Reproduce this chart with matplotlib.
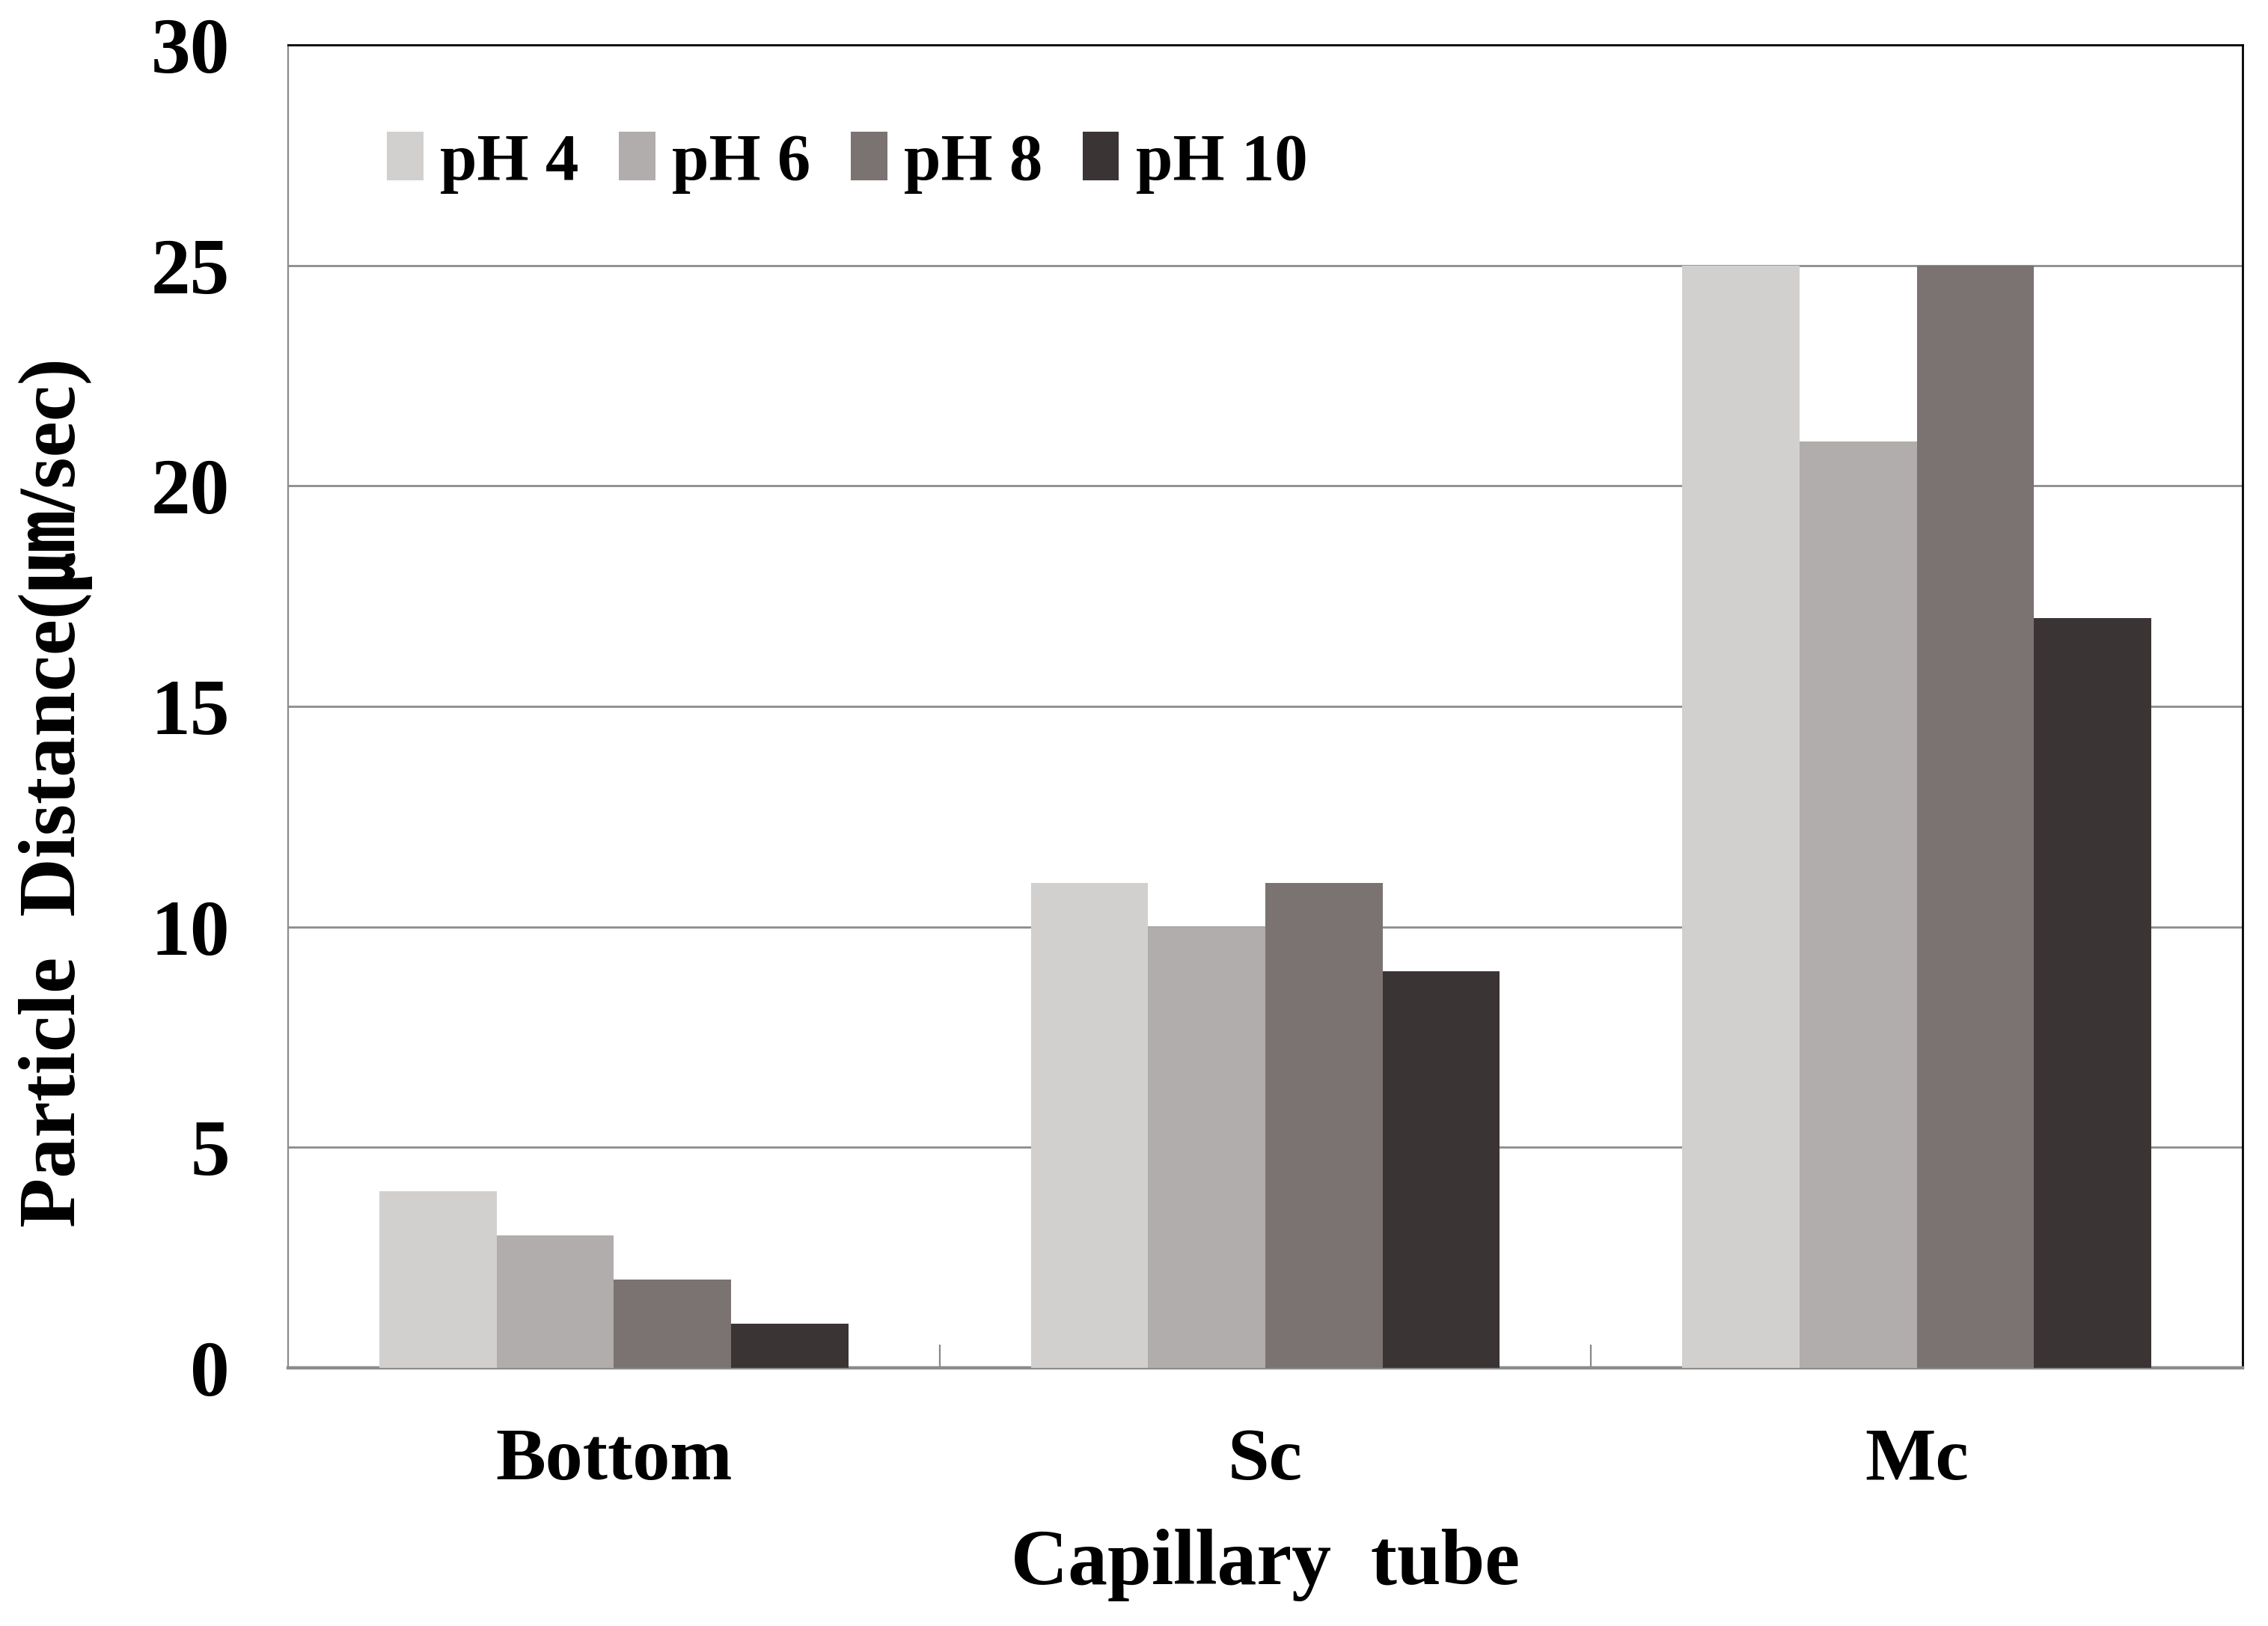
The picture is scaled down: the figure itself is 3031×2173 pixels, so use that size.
import numpy as np
import matplotlib
matplotlib.use("Agg")
import matplotlib.pyplot as plt


# ----------------------------------------------------
# Data
# ----------------------------------------------------

categories = ["Bottom", "Sc", "Mc"]
series_names = ["pH 4", "pH 6", "pH 8", "pH 10"]

ph4 = [4, 11, 25]
ph6 = [3, 10, 21]
ph8 = [2, 11, 25]
ph10 = [1, 9, 17]

y_ticks = [0, 5, 10, 15, 20, 25, 30]

colors = ["#d1d0cf", "#b1adac", "#7a7372", "#3a3534"]


# ----------------------------------------------------
# Figure
# ----------------------------------------------------

plt.rcParams["font.family"] = ["Liberation Serif", "Noto Sans CJK KR", "DejaVu Sans"]
plt.rcParams["font.weight"] = "bold"

fig = plt.figure(figsize=(15.155, 10.865), dpi=200)
ax = fig.add_axes([0.127, 0.1588, 0.8618, 0.8136])

x = np.arange(len(categories))
width = 0.18
values = [ph4, ph6, ph8, ph10]

for i, (name, vals) in enumerate(zip(series_names, values)):
    offset = (i - 1.5) * width
    ax.bar(
        x + offset,
        vals,
        width=width,
        color=colors[i],
        label=name,
        zorder=3
    )

ax.set_xlim(-0.5, 2.5)
ax.set_ylim(0, 30)

ax.set_yticks(y_ticks)
ax.set_yticklabels([str(t) for t in y_ticks], fontsize=38, fontweight="bold")
ax.tick_params(axis="y", length=0, pad=28)

# category labels at centres, tick marks between groups
ax.set_xticks(x)
ax.set_xticklabels(categories, fontsize=36, fontweight="bold")
ax.tick_params(axis="x", length=0, pad=29)
ax.set_xticks([0.5, 1.5], minor=True)
ax.tick_params(axis="x", which="minor", direction="in", length=11,
               width=0.8, color="#888888")

ax.yaxis.grid(True, color="#8c8c8c", linewidth=1.0, zorder=0)
ax.set_axisbelow(True)

ax.spines["left"].set_color("#8c8c8c")
ax.spines["left"].set_linewidth(0.8)
ax.spines["bottom"].set_color("#8c8c8c")
ax.spines["bottom"].set_linewidth(1.6)
ax.spines["top"].set_color("black")
ax.spines["top"].set_linewidth(1.0)
ax.spines["right"].set_color("black")
ax.spines["right"].set_linewidth(1.0)

ax.set_xlabel("Capillary  tube", fontsize=38, fontweight="bold", labelpad=16)
ax.set_ylabel("Particle  Distance(\u339b/sec)", fontsize=39,
              fontweight="bold")
ax.yaxis.set_label_coords(-0.1, 0.435)

ax.legend(
    loc="center left",
    bbox_to_anchor=(0.02, 0.911),
    ncol=4,
    frameon=False,
    handlelength=0.55,
    handleheight=0.75,
    handletextpad=0.25,
    columnspacing=0.6,
    prop={"weight": "bold", "size": 32}
)

fig.savefig("out.png", dpi=200)
plt.close(fig)
